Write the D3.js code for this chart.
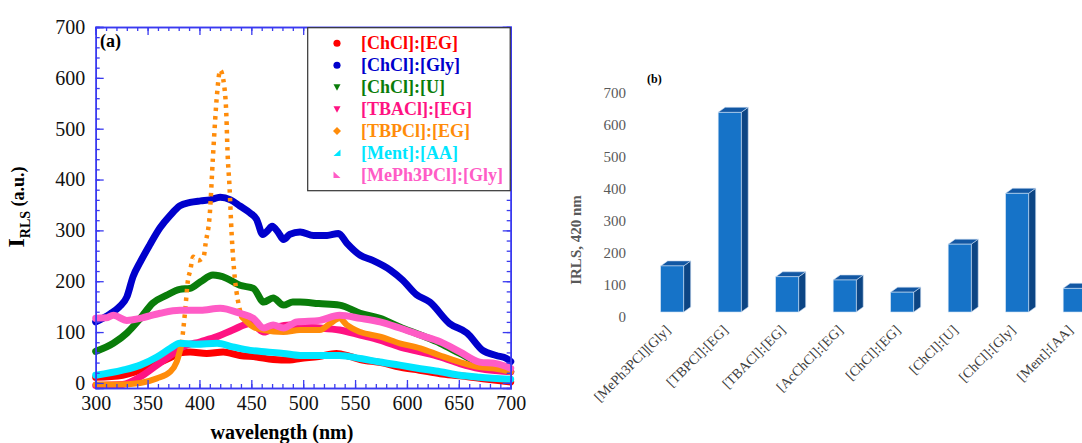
<!DOCTYPE html>
<html>
<head>
<meta charset="utf-8">
<script src="https://cdn.jsdelivr.net/npm/d3@7/dist/d3.min.js"></script>
<style>
  body { margin: 0; background: #fff; }
  text { font-family: "Liberation Serif", "Times New Roman", serif; }
</style>
</head>
<body>
<div id="chart"></div>
<script>
// panel (a): [wavelength nm, I_RLS a.u.]
var chclEG = [[300,11],[326,15],[343,25],[359,38],[372,50],[381,59],[391,61],[407,58],[423,61],[439,54],[455,51],[471,46],[487,45],[497,48],[515,52],[532,58],[545,52],[555,46],[575,40],[593,31],[612,25],[632,18],[651,14],[670,9],[686,5],[700,2]];
var chclGly = [[300,120],[314,136],[323,150],[330,169],[336,209],[343,238],[352,271],[362,305],[372,330],[381,348],[391,355],[401,358],[410,360],[420,365],[430,360],[439,348],[449,334],[455,322],[461,292],[466,300],[470,308],[476,296],[481,282],[487,292],[497,297],[510,290],[523,290],[534,294],[542,275],[555,251],[567,241],[584,222],[596,202],[609,174],[622,159],[641,117],[658,98],[673,64],[686,54],[696,48],[700,42]];
var chclU = [[300,62],[317,78],[330,98],[343,127],[355,157],[368,172],[381,184],[391,186],[401,199],[413,212],[426,206],[439,192],[452,186],[462,159],[471,167],[481,153],[490,159],[497,159],[515,156],[535,153],[555,137],[574,127],[593,110],[613,94],[632,78],[651,58],[670,39],[686,35],[700,22]];
var tbaclEG = [[300,-5],[326,-3],[343,12],[359,35],[372,54],[384,71],[401,81],[417,91],[432,104],[449,117],[455,110],[462,100],[475,110],[487,114],[497,110],[516,108],[535,104],[555,94],[574,84],[593,71],[613,61],[632,51],[651,38],[670,28],[700,22]];
var tbpclEG = [[300,-3],[320,-3],[343,0],[359,9],[372,22],[378,41],[383,78],[386,137],[389,203],[391,220],[394,248],[399,241],[404,248],[406,275],[410,333],[413,444],[417,569],[420,615],[424,582],[426,523],[427,458],[429,385],[431,294],[434,208],[437,163],[441,130],[452,110],[462,104],[481,100],[497,104],[516,104],[526,117],[535,127],[542,114],[555,100],[574,91],[593,78],[613,68],[632,54],[651,41],[670,31],[686,28],[700,22]];
var mentAA = [[300,15],[326,25],[343,35],[359,51],[372,68],[381,78],[397,76],[417,78],[432,71],[449,64],[465,61],[481,58],[497,54],[535,54],[555,48],[574,41],[593,35],[613,28],[632,22],[651,15],[670,11],[700,7]];
var meph3pclGly = [[300,127],[310,128],[317,133],[330,123],[343,127],[362,137],[381,143],[401,143],[420,147],[439,137],[452,127],[462,108],[471,114],[481,108],[494,120],[516,123],[535,133],[555,127],[574,120],[593,108],[613,94],[632,81],[651,61],[670,41],[686,38],[700,29]];

var xTicksA = [300,350,400,450,500,550,600,650,700];
var yTicksA = [0,100,200,300,400,500,600,700];

// panel (b): I_RLS at 420 nm
var barLabels = ["[MePh3PCl][Gly]","[TBPCl]:[EG]","[TBACl]:[EG]","[AcChCl]:[EG]","[ChCl]:[EG]","[ChCl]:[U]","[ChCl]:[Gly]","[Ment]:[AA]"];
var barValues = [144,624,110,100,62,212,371,74];
var yTicksB = [0,100,200,300,400,500,600,700];

var series = [
  {name: "[ChCl]:[EG]",      data: chclEG,      color: "#ff0000", sym: "circle"},
  {name: "[ChCl]:[Gly]",     data: chclGly,     color: "#0000cc", sym: "circle"},
  {name: "[ChCl]:[U]",       data: chclU,       color: "#0a7d0a", sym: "down"},
  {name: "[TBACl]:[EG]",     data: tbaclEG,     color: "#ff1282", sym: "down"},
  {name: "[TBPCl]:[EG]",     data: tbpclEG,     color: "#ff8c0a", sym: "diamond"},
  {name: "[Ment]:[AA]",      data: mentAA,      color: "#00e6ff", sym: "left"},
  {name: "[MePh3PCl]:[Gly]", data: meph3pclGly, color: "#ff5cc6", sym: "right"}
];

var svg = d3.select("#chart").append("svg")
  .attr("width", 1082)
  .attr("height", 443)
  .style("display", "block");

var axisBlue = "#3a3af0";

// ---------- panel (a) ----------
var x = d3.scaleLinear().domain([300, 700]).range([95.7, 510.7]);
var y = d3.scaleLinear().domain([-10, 700]).range([388, 27]);

var line = d3.line()
  .curve(d3.curveMonotoneX)
  .x(function(d){ return x(d[0]); })
  .y(function(d){ return y(d[1]); });

var curves = svg.append("g");
series.forEach(function(s){
  if (s.name == "[TBPCl]:[EG]") {
    // steep peak is drawn as separated points, flat parts as solid band
    var lo = s.data.filter(function(d){ return d[0] <= 383; });
    var pk = s.data.filter(function(d){ return d[0] >= 383 && d[0] <= 441; });
    var hi = s.data.filter(function(d){ return d[0] >= 441; });
    [lo, hi].forEach(function(part){
      curves.append("path").datum(part)
        .attr("d", line)
        .attr("fill", "none")
        .attr("stroke", s.color)
        .attr("stroke-width", 6)
        .attr("stroke-linejoin", "round")
        .attr("stroke-linecap", "round");
    });
    curves.append("path").datum(pk)
      .attr("d", line)
      .attr("fill", "none")
      .attr("stroke", s.color)
      .attr("stroke-width", 4.5)
      .attr("stroke-dasharray", "3.5,5");
  } else {
    curves.append("path").datum(s.data)
      .attr("d", line)
      .attr("fill", "none")
      .attr("stroke", s.color)
      .attr("stroke-width", 7)
      .attr("stroke-linejoin", "round")
      .attr("stroke-linecap", "round");
  }
});

function styleAxis(g) {
  g.select(".domain").attr("stroke", axisBlue).attr("stroke-width", 1.5);
  g.selectAll(".tick line").attr("stroke", axisBlue).attr("stroke-width", 1.3);
  g.selectAll(".tick text").attr("fill", "#111").style("font-size", "20px")
    .style("font-family", "'Liberation Serif', serif");
}

var gxb = svg.append("g").attr("transform", "translate(0,388)")
  .call(d3.axisBottom(x).tickValues(xTicksA).tickSize(-8).tickPadding(8).tickFormat(d3.format("d")));
styleAxis(gxb);
var gxbm = svg.append("g").attr("transform", "translate(0,388)")
  .call(d3.axisBottom(x).tickValues(d3.range(300, 701, 10)).tickSize(-4).tickFormat(""));
styleAxis(gxbm);

var gxt = svg.append("g").attr("transform", "translate(0,27)")
  .call(d3.axisTop(x).tickValues(xTicksA).tickSize(-8).tickFormat(""));
styleAxis(gxt);
var gxtm = svg.append("g").attr("transform", "translate(0,27)")
  .call(d3.axisTop(x).tickValues(d3.range(300, 701, 10)).tickSize(-4).tickFormat(""));
styleAxis(gxtm);

var gyl = svg.append("g").attr("transform", "translate(95.7,0)")
  .call(d3.axisLeft(y).tickValues(yTicksA).tickSize(-8).tickPadding(10.5).tickFormat(d3.format("d")));
styleAxis(gyl);
var gylm = svg.append("g").attr("transform", "translate(95.7,0)")
  .call(d3.axisLeft(y).tickValues(d3.range(0, 701, 20)).tickSize(-4).tickFormat(""));
styleAxis(gylm);

var gyr = svg.append("g").attr("transform", "translate(510.7,0)")
  .call(d3.axisRight(y).tickValues(yTicksA).tickSize(-8).tickFormat(""));
styleAxis(gyr);
var gyrm = svg.append("g").attr("transform", "translate(510.7,0)")
  .call(d3.axisRight(y).tickValues(d3.range(0, 701, 20)).tickSize(-4).tickFormat(""));
styleAxis(gyrm);

svg.append("text")
  .attr("x", 100).attr("y", 47)
  .style("font-size", "18px").style("font-weight", "bold")
  .text("(a)");

svg.append("text")
  .attr("x", 282).attr("y", 439)
  .attr("text-anchor", "middle")
  .style("font-size", "20px").style("font-weight", "bold")
  .text("wavelength (nm)");

var ylab = svg.append("text")
  .attr("transform", "translate(24,207) rotate(-90)")
  .attr("text-anchor", "middle")
  .style("font-weight", "bold");
ylab.append("tspan").style("font-size", "24px").text("I");
ylab.append("tspan").attr("dy", 6).style("font-size", "14px").text("RLS");
ylab.append("tspan").attr("dy", -6).style("font-size", "18px").text(" (a.u.)");

// legend
var leg = svg.append("g");
leg.append("rect")
  .attr("x", 307.7).attr("y", 27.7)
  .attr("width", 202.5).attr("height", 163)
  .attr("fill", "#fff")
  .attr("stroke", "#333")
  .attr("stroke-width", 1.2);

var symPath = {
  circle:  d3.symbol().type(d3.symbolCircle).size(40)(),
  down:    "M-3.5,-3L3.5,-3L0,3.5Z",
  diamond: "M0,-4L4,0L0,4L-4,0Z",
  left:    "M3.5,-3.5L3.5,3L-3.5,3Z",
  right:   "M-3.5,-3.5L3.5,3L-3.5,3Z"
};
var rowY = d3.scaleLinear().domain([0, 6]).range([43.3, 175]);
series.forEach(function(s, i){
  leg.append("path")
    .attr("d", symPath[s.sym])
    .attr("transform", "translate(337," + rowY(i) + ")")
    .attr("fill", s.color);
  leg.append("text")
    .attr("x", 361).attr("y", rowY(i) + 6)
    .attr("fill", s.color)
    .style("font-size", "18px").style("font-weight", "bold")
    .text(s.name);
});

// ---------- panel (b) ----------
var yb = d3.scaleLinear().domain([0, 700]).range([317, 93]);
var xb = d3.scaleBand().domain(barLabels)
  .range([643.45, 1103.45])
  .paddingInner(0.6).paddingOuter(0.3);

var depthX = 7, depthY = 5, drop = 5;
var bars = svg.append("g");
barLabels.forEach(function(lab, i){
  var fx = xb(lab), w = xb.bandwidth();
  var top = yb(barValues[i]) - drop, bot = yb(0) - drop;
  var g = bars.append("g");
  g.append("path")
    .attr("d", "M" + (fx + w) + "," + top + "L" + (fx + w + depthX) + "," + (top - depthY) +
      "L" + (fx + w + depthX) + "," + (bot - depthY) + "L" + (fx + w) + "," + bot + "Z")
    .attr("fill", "#0c4584").attr("stroke", "#c9dcf2").attr("stroke-width", 0.6);
  g.append("path")
    .attr("d", "M" + fx + "," + top + "L" + (fx + depthX) + "," + (top - depthY) +
      "L" + (fx + w + depthX) + "," + (top - depthY) + "L" + (fx + w) + "," + top + "Z")
    .attr("fill", "#1257a3").attr("stroke", "#c9dcf2").attr("stroke-width", 0.6);
  g.append("rect")
    .attr("x", fx).attr("y", top)
    .attr("width", w).attr("height", bot - top)
    .attr("fill", "#1673c8").attr("stroke", "#c9dcf2").attr("stroke-width", 0.6);
});

var gyb = svg.append("g").attr("transform", "translate(626,0)")
  .call(d3.axisLeft(yb).tickValues(yTicksB).tickSize(0).tickPadding(0));
gyb.select(".domain").remove();
gyb.selectAll(".tick text").attr("fill", "#595959")
  .style("font-size", "15px").style("font-family", "'Liberation Serif', serif");

var gxl = svg.append("g").attr("transform", "translate(0,322)")
  .call(d3.axisBottom(xb).tickSize(0));
gxl.select(".domain").remove();
gxl.selectAll(".tick text")
  .attr("x", 0).attr("y", 0).attr("dy", 0)
  .attr("text-anchor", "end")
  .attr("transform", "translate(-1,9) rotate(-45)")
  .attr("fill", "#404040")
  .style("font-size", "14px").style("font-family", "'Liberation Serif', serif");

svg.append("text")
  .attr("transform", "translate(581,240) rotate(-90)")
  .attr("text-anchor", "middle")
  .attr("fill", "#595959")
  .style("font-size", "15px").style("font-weight", "bold")
  .text("IRLS, 420 nm");

svg.append("text")
  .attr("x", 647).attr("y", 83)
  .style("font-size", "12px").style("font-weight", "bold")
  .text("(b)");
</script>
</body>
</html>
